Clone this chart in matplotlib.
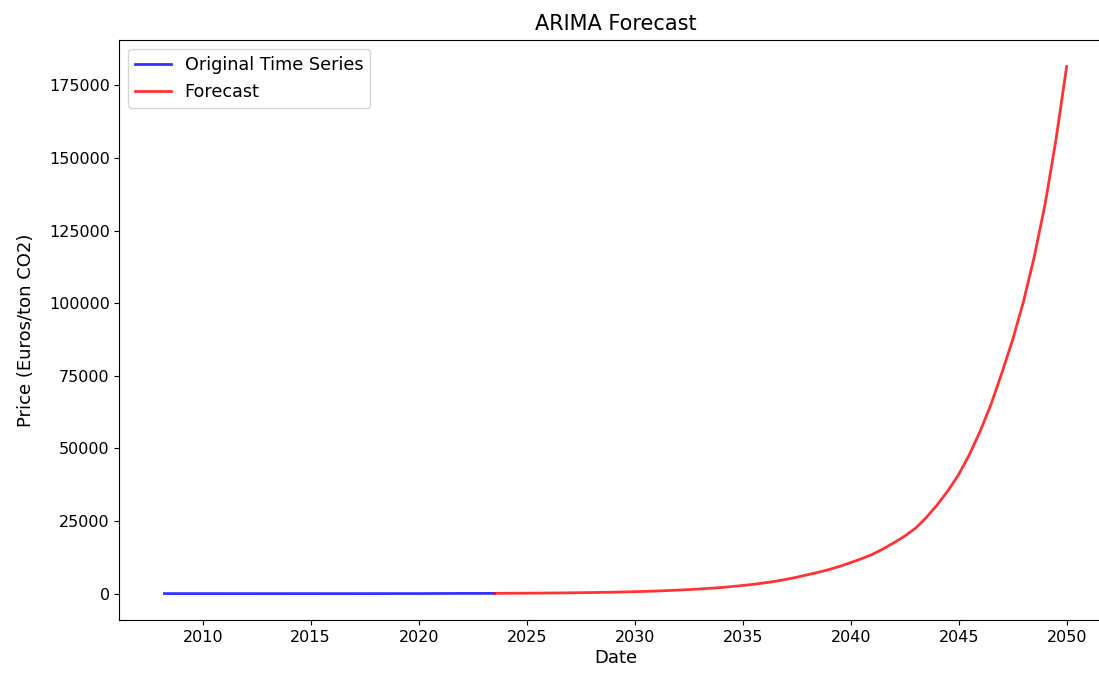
import matplotlib.pyplot as plt
from matplotlib.ticker import MultipleLocator

# observed carbon price (yearly, Euros per ton CO2)
obs_years = [2008.23, 2009, 2010, 2011, 2012, 2013, 2014, 2015, 2016,
             2017, 2018, 2019, 2020, 2021, 2022, 2023, 2023.5]
obs_price = [22, 13, 14, 13, 7, 4.5, 6, 7.7, 5.3,
             5.8, 16, 25, 25, 53, 80, 85, 87]

# ARIMA forecast
fc_years = [2023.5, 2024, 2025, 2026, 2027, 2028, 2029, 2030, 2031, 2032,
            2033, 2034, 2035, 2035.5, 2036, 2036.5, 2037, 2037.5, 2038,
            2038.5, 2039, 2039.5, 2040, 2040.5, 2041, 2041.5, 2042, 2042.5,
            2043, 2043.5, 2044, 2044.5, 2045, 2045.5, 2046, 2046.5, 2047,
            2047.5, 2048, 2048.5, 2049, 2049.5, 2050]
fc_price = [87, 120, 160, 210, 280, 380, 500, 680, 900, 1200,
            1600, 2100, 2800, 3200, 3700, 4250, 4900, 5650, 6500,
            7350, 8300, 9400, 10700, 12000, 13500, 15400, 17500, 19800,
            22500, 26200, 30500, 35400, 41000, 47900, 56000, 65200, 76000,
            87400, 100500, 116000, 134000, 156000, 181500]

fig = plt.figure(figsize=(10.99, 6.75), dpi=100)
ax = fig.add_axes([0.1086, 0.0815, 0.903, 0.859])

ax.plot(obs_years, obs_price, color='blue', alpha=0.8, linewidth=2,
        label='Original Time Series')
ax.plot(fc_years, fc_price, color='red', alpha=0.8, linewidth=2,
        label='Forecast')

ax.xaxis.set_major_locator(MultipleLocator(5))
ax.set_title('ARIMA Forecast', fontsize=15, pad=7)
ax.set_xlabel('Date', fontsize=13, labelpad=3)
ax.set_ylabel('Price (Euros/ton CO2)', fontsize=13, labelpad=10)
ax.tick_params(labelsize=11.5)
ax.legend(loc='upper left', fontsize=12.7)

plt.savefig('out.png', dpi=100)
